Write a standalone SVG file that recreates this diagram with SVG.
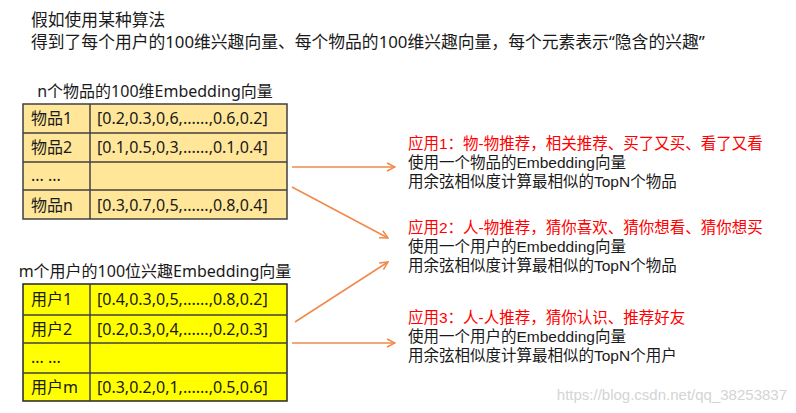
<svg xmlns="http://www.w3.org/2000/svg" width="796" height="413" viewBox="0 0 796 413">
<defs>
<marker id="ah" markerWidth="10" markerHeight="10" refX="9" refY="5" orient="auto" markerUnits="userSpaceOnUse">
<path d="M1,1 L9,5 L1,9" fill="none" stroke="#F08A4A" stroke-width="1.5"/>
</marker>
</defs>
<style>
text{font-family:"Noto Sans","Noto Sans CJK SC",sans-serif;fill:#1a1a1a}
.h{font-size:16.8px}
.t{font-size:16px}
.c{font-family:"Liberation Sans","Noto Sans CJK SC",sans-serif;font-size:15.5px}
.r{fill:#FF0000}
.items rect{fill:#FFE699;stroke:#404040;stroke-width:1.5}
.users rect{fill:#FFFF00;stroke:#262626;stroke-width:1.5}
.ln{stroke:#404040;stroke-width:1.5}
.conn line{stroke:#F08A4A;stroke-width:1.5;marker-end:url(#ah)}
.wm{font-family:"Liberation Sans",sans-serif;font-size:15px;fill:#d4d4d4}
</style>
<rect width="796" height="413" fill="#fff"/>
<g id="header">
<text class="h" x="31" y="26">假如使用某种算法</text>
<text class="h" x="31" y="48">得到了每个用户的100维兴趣向量、每个物品的100维兴趣向量，每个元素表示“隐含的兴趣”</text>
</g>
<g id="items" class="items">
<text class="t" x="155" y="97" text-anchor="middle">n个物品的100维Embedding向量</text>
<rect x="23" y="104" width="264" height="115"/>
<line class="ln" x1="23" y1="133" x2="287" y2="133"/>
<line class="ln" x1="23" y1="162" x2="287" y2="162"/>
<line class="ln" x1="23" y1="190" x2="287" y2="190"/>
<line class="ln" x1="90" y1="104" x2="90" y2="219"/>
<text class="t" x="31" y="124">物品1</text>
<text class="t" x="97" y="124">[0.2,0.3,0,6,......,0.6,0.2]</text>
<text class="t" x="31" y="153">物品2</text>
<text class="t" x="97" y="153">[0.1,0.5,0,3,......,0.1,0.4]</text>
<text class="t" x="31" y="181">... ...</text>
<text class="t" x="31" y="211">物品n</text>
<text class="t" x="97" y="211">[0.3,0.7,0,5,......,0.8,0.4]</text>
</g>
<g id="users" class="users">
<text class="t" x="155" y="277" text-anchor="middle">m个用户的100位兴趣Embedding向量</text>
<rect x="23" y="284" width="264" height="117"/>
<line class="ln" x1="23" y1="315" x2="287" y2="315"/>
<line class="ln" x1="23" y1="343" x2="287" y2="343"/>
<line class="ln" x1="23" y1="373" x2="287" y2="373"/>
<line class="ln" x1="90" y1="284" x2="90" y2="401"/>
<text class="t" x="31" y="305">用户1</text>
<text class="t" x="97" y="305">[0.4,0.3,0,5,......,0.8,0.2]</text>
<text class="t" x="31" y="335">用户2</text>
<text class="t" x="97" y="335">[0.2,0.3,0,4,......,0.2,0.3]</text>
<text class="t" x="31" y="363">... ...</text>
<text class="t" x="31" y="393">用户m</text>
<text class="t" x="97" y="393">[0.3,0.2,0,1,......,0.5,0.6]</text>
</g>
<g id="connectors" class="conn">
<line x1="292" y1="167" x2="395" y2="167"/>
<line x1="292" y1="187" x2="388" y2="238"/>
<line x1="295" y1="322" x2="388" y2="262"/>
<line x1="292" y1="343" x2="395" y2="343"/>
</g>
<g id="app1">
<text class="c r" x="408" y="149">应用1：物-物推荐，相关推荐、买了又买、看了又看</text>
<text class="c" x="408" y="168">使用一个物品的Embedding向量</text>
<text class="c" x="408" y="187">用余弦相似度计算最相似的TopN个物品</text>
</g>
<g id="app2">
<text class="c r" x="408" y="233">应用2：人-物推荐，猜你喜欢、猜你想看、猜你想买</text>
<text class="c" x="408" y="252">使用一个用户的Embedding向量</text>
<text class="c" x="408" y="271">用余弦相似度计算最相似的TopN个物品</text>
</g>
<g id="app3">
<text class="c r" x="408" y="323">应用3：人-人推荐，猜你认识、推荐好友</text>
<text class="c" x="408" y="342">使用一个用户的Embedding向量</text>
<text class="c" x="408" y="361">用余弦相似度计算最相似的TopN个用户</text>
</g>
<text class="wm" x="787" y="400" text-anchor="end">https://blog.csdn.net/qq_38253837</text>
</svg>
